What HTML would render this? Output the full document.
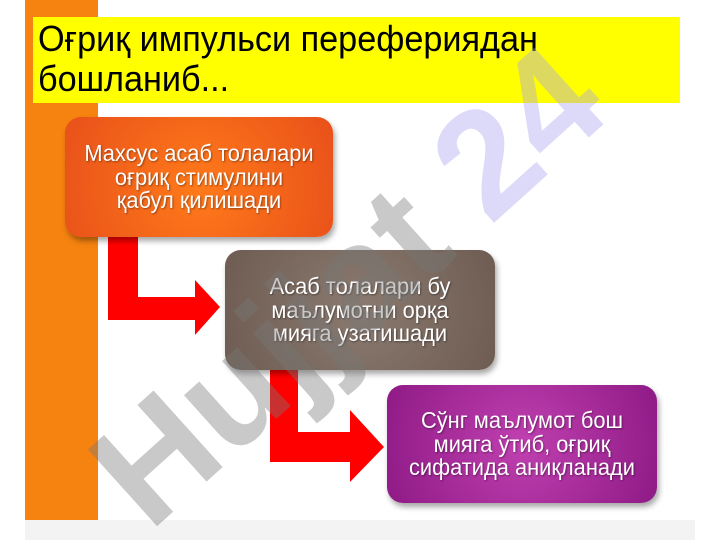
<!DOCTYPE html>
<html><head><meta charset="utf-8"><style>
body{margin:0;width:720px;height:540px;background:#fff;position:relative;overflow:hidden;font-family:"Liberation Sans",sans-serif}
.abs{position:absolute}
.box{position:absolute;border-radius:16px;color:#fff;box-shadow:2px 4px 6px rgba(0,0,0,.35)}
.t{position:absolute;left:50%;top:50%;transform:translate(-50%,-50%) scaleX(.95);font-size:23px;line-height:23.5px;text-align:center;white-space:nowrap;text-shadow:1px 1px 2px rgba(0,0,0,.4)}
</style></head><body>
<div class="abs" style="left:25px;top:0;width:73px;height:520px;background:#f6830f"></div>
<div class="abs" style="left:25px;top:520px;width:670px;height:20px;background:#f3f3f3"></div>
<div class="abs" style="left:33px;top:17px;width:647px;height:86px;background:#ffff00"></div>
<div class="abs" style="left:38px;top:19px;font-size:36px;line-height:40px;color:#000;transform:scaleX(.95);transform-origin:0 0;white-space:nowrap">Оғриқ импульси перефериядан<br>бошланиб...</div>
<svg class="abs" style="left:0;top:0" width="720" height="540">
<path d="M108 237H138V297H195V280L220 307L195 335V320H108Z" fill="#ff0000"/>
<path d="M270 370H298V432H350V410L384 447L350 482V462H270Z" fill="#ff0000"/>
</svg>
<div class="box" style="left:65px;top:117px;width:268px;height:120px;background:radial-gradient(circle at 50% 60%,#ff7a1a,#e8501a)"><div class="t">Махсус асаб толалари<br>оғриқ стимулини<br>қабул қилишади</div></div>
<div class="box" style="left:225px;top:250px;width:270px;height:120px;background:radial-gradient(circle at 50% 50%,#8a7a70,#6e5c52)"><div class="t">Асаб толалари бу<br>маълумотни орқа<br>мияга узатишади</div></div>
<div class="box" style="left:387px;top:385px;width:270px;height:118px;background:radial-gradient(circle at 50% 50%,#c040b0,#8e1a86)"><div class="t">Сўнг маълумот бош<br>мияга ўтиб, оғриқ<br>сифатида аниқланади</div></div>
<div class="abs" style="left:165px;top:550px;font-size:150px;line-height:150px;font-weight:bold;color:rgba(120,120,120,.4);transform:rotate(-42deg);transform-origin:0 100%;white-space:nowrap;margin-top:-150px">Hujjat <span style="color:rgba(170,160,240,.4)">24</span></div>
</body></html>
